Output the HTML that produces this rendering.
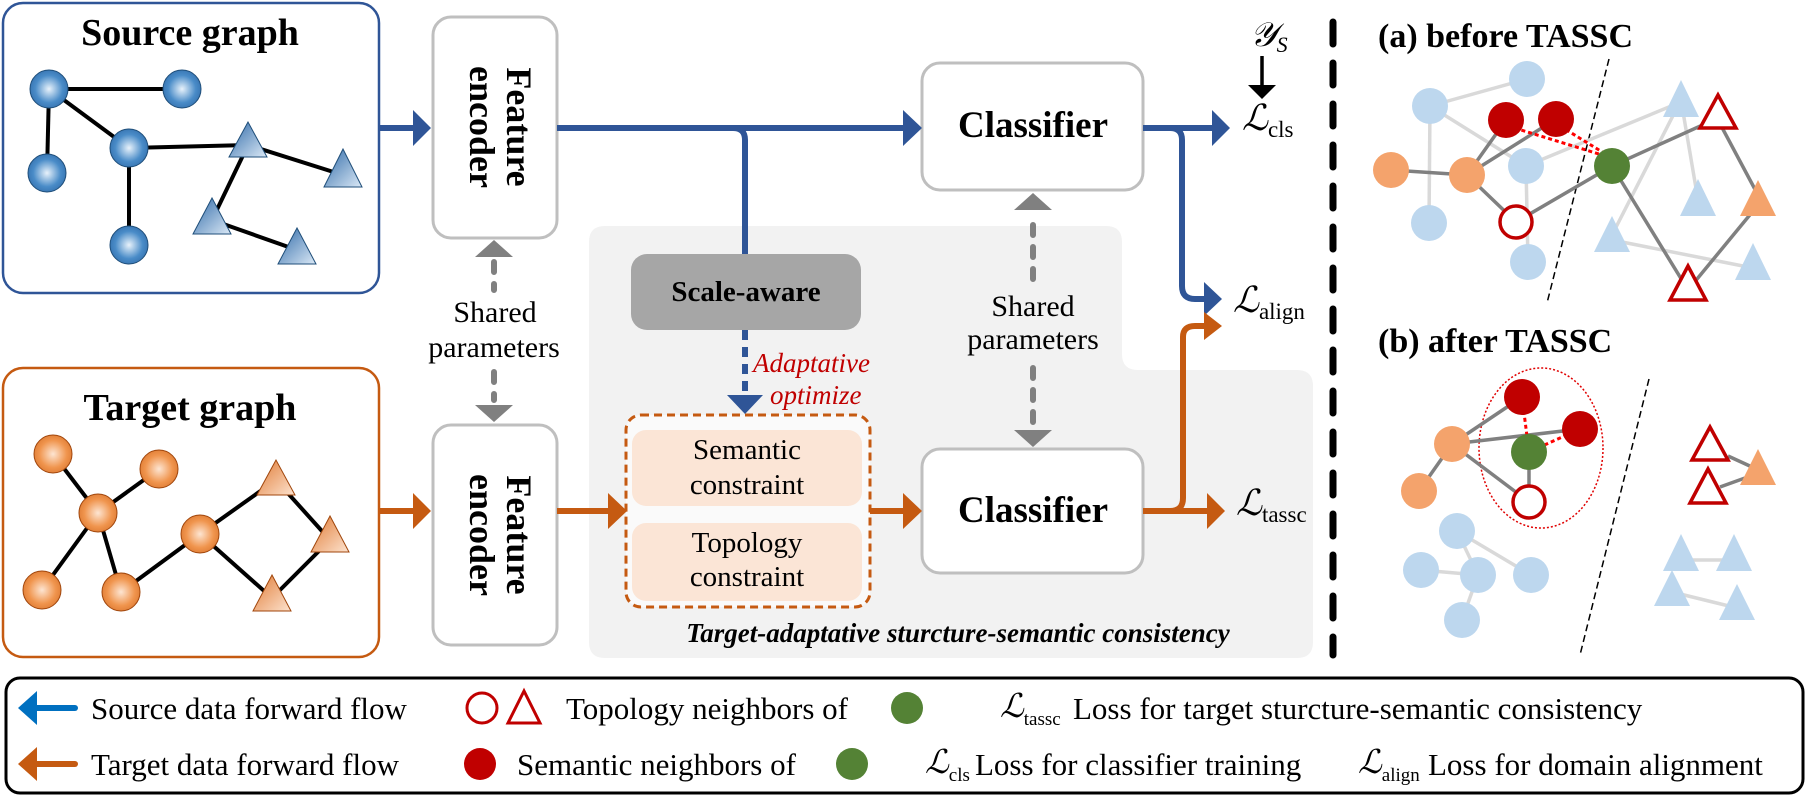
<!DOCTYPE html>
<html><head><meta charset="utf-8"><style>
html,body{margin:0;padding:0;background:#fff}
svg{display:block}
text{font-family:"Liberation Serif","Times New Roman",serif}
.L{font-family:"Liberation Serif","DejaVu Serif",serif;font-style:italic}
</style></head><body>
<svg width="1813" height="796" viewBox="0 0 1813 796" xmlns="http://www.w3.org/2000/svg" font-family="Liberation Serif, serif">
<defs>
<radialGradient id="gb" cx="0.5" cy="0.5" r="0.6"><stop offset="0" stop-color="#e8f2fb"/><stop offset="0.6" stop-color="#4a8cc8"/><stop offset="1" stop-color="#2f6aa8"/></radialGradient>
<radialGradient id="go" cx="0.5" cy="0.5" r="0.6"><stop offset="0" stop-color="#fde5d2"/><stop offset="0.6" stop-color="#f0954e"/><stop offset="1" stop-color="#d9742c"/></radialGradient>
<linearGradient id="tb" x1="0" y1="0" x2="1" y2="1"><stop offset="0" stop-color="#2f6aa8"/><stop offset="1" stop-color="#dbe9f6"/></linearGradient>
<linearGradient id="to" x1="0" y1="0" x2="1" y2="1"><stop offset="0" stop-color="#e07b35"/><stop offset="1" stop-color="#fde3cf"/></linearGradient>
</defs>

<!-- gray region -->
<path d="M605,226 H1106 Q1122,226 1122,242 V354 Q1122,370 1138,370 H1297 Q1313,370 1313,386 V642 Q1313,658 1297,658 H605 Q589,658 589,642 V242 Q589,226 605,226 Z" fill="#f2f2f2"/>

<!-- source box -->
<rect x="3" y="3" width="376" height="290" rx="20" fill="#fff" stroke="#2f5597" stroke-width="2.5"/>
<text x="190" y="45" font-size="38" font-weight="bold" text-anchor="middle">Source graph</text>
<g stroke="#000" stroke-width="4">
<line x1="49" y1="89" x2="182" y2="89"/><line x1="49" y1="89" x2="47" y2="173"/><line x1="49" y1="89" x2="129" y2="148"/>
<line x1="129" y1="148" x2="248" y2="145"/><line x1="129" y1="148" x2="129" y2="245"/><line x1="248" y1="145" x2="343" y2="175"/>
<line x1="248" y1="145" x2="212" y2="220"/><line x1="212" y1="220" x2="297" y2="250"/>
</g>
<g fill="url(#gb)" stroke="#1f4e79" stroke-width="1">
<circle cx="49" cy="89" r="19"/><circle cx="182" cy="89" r="19"/><circle cx="47" cy="173" r="19"/><circle cx="129" cy="148" r="19"/><circle cx="129" cy="245" r="19"/>
</g>
<g fill="url(#tb)" stroke="#1f4e79" stroke-width="1">
<polygon points="248,122 229,157 267,157"/><polygon points="343,149 324,187 362,187"/><polygon points="212,198 193,234 231,234"/><polygon points="297,228 278,264 316,264"/>
</g>

<!-- target box -->
<rect x="3" y="368" width="376" height="289" rx="20" fill="#fff" stroke="#c55a11" stroke-width="2.5"/>
<text x="190" y="420" font-size="38" font-weight="bold" text-anchor="middle">Target graph</text>
<g stroke="#000" stroke-width="4">
<line x1="53" y1="454" x2="98" y2="513"/><line x1="159" y1="469" x2="98" y2="513"/><line x1="98" y1="513" x2="42" y2="590"/><line x1="98" y1="513" x2="121" y2="592"/>
<line x1="200" y1="534" x2="276" y2="480"/><line x1="200" y1="534" x2="121" y2="592"/><line x1="200" y1="534" x2="272" y2="598"/>
<line x1="276" y1="480" x2="330" y2="540"/><line x1="330" y1="540" x2="272" y2="598"/>
</g>
<g fill="url(#go)" stroke="#a0460c" stroke-width="1">
<circle cx="53" cy="454" r="19"/><circle cx="159" cy="469" r="19"/><circle cx="98" cy="513" r="19"/><circle cx="200" cy="534" r="19"/><circle cx="42" cy="590" r="19"/><circle cx="121" cy="592" r="19"/>
</g>
<g fill="url(#to)" stroke="#a0460c" stroke-width="1">
<polygon points="276,460 257,495 295,495"/><polygon points="330,516 311,552 349,552"/><polygon points="272,575 253,611 291,611"/>
</g>

<!-- encoders -->
<rect x="433" y="17" width="124" height="221" rx="18" fill="#fff" stroke="#bfbfbf" stroke-width="3"/>
<rect x="433" y="425" width="124" height="220" rx="18" fill="#fff" stroke="#bfbfbf" stroke-width="3"/>
<g font-size="36" font-weight="bold" text-anchor="middle">
<text transform="translate(495,127) rotate(90)"><tspan x="0" y="-12">Feature</tspan><tspan x="0" y="25">encoder</tspan></text>
<text transform="translate(495,535) rotate(90)"><tspan x="0" y="-12">Feature</tspan><tspan x="0" y="25">encoder</tspan></text>
</g>
<g stroke="#808080" stroke-width="6" stroke-dasharray="10,12" stroke-linecap="round">
<line x1="494" y1="262" x2="494" y2="290"/><line x1="494" y1="372" x2="494" y2="400"/>
<line x1="1033" y1="225" x2="1033" y2="285"/><line x1="1033" y1="368" x2="1033" y2="430"/>
</g>
<g fill="#808080">
<polygon points="494,240 475,257 513,257"/><polygon points="494,422 475,405 513,405"/>
<polygon points="1033,193 1014,210 1052,210"/><polygon points="1033,447 1014,430 1052,430"/>
</g>
<g font-size="30" text-anchor="middle">
<text x="495" y="322">Shared</text><text x="494" y="357">parameters</text>
<text x="1033" y="316">Shared</text><text x="1033" y="349">parameters</text>
</g>

<!-- classifiers -->
<rect x="922" y="63" width="221" height="127" rx="18" fill="#fff" stroke="#bfbfbf" stroke-width="3"/>
<rect x="922" y="449" width="221" height="124" rx="18" fill="#fff" stroke="#bfbfbf" stroke-width="3"/>
<text x="1033" y="137" font-size="37" font-weight="bold" text-anchor="middle">Classifier</text>
<text x="1033" y="522" font-size="37" font-weight="bold" text-anchor="middle">Classifier</text>

<!-- scale aware -->
<rect x="631" y="254" width="230" height="76" rx="16" fill="#a6a6a6"/>
<text x="746" y="301" font-size="29" font-weight="bold" text-anchor="middle">Scale-aware</text>

<!-- constraint box -->
<rect x="626" y="415" width="244" height="192" rx="15" fill="#fafafa" stroke="#c55a11" stroke-width="3" stroke-dasharray="8,5"/>
<rect x="632" y="430" width="230" height="76" rx="14" fill="#fbe5d6"/>
<rect x="632" y="523" width="230" height="78" rx="14" fill="#fbe5d6"/>
<g font-size="29" text-anchor="middle">
<text x="747" y="459">Semantic</text><text x="747" y="494">constraint</text>
<text x="747" y="552">Topology</text><text x="747" y="586">constraint</text>
</g>
<g font-size="27" font-style="italic" fill="#c00000">
<text x="753" y="372">Adaptative</text><text x="770" y="404">optimize</text>
</g>
<text x="958" y="642" font-size="27" font-weight="bold" font-style="italic" text-anchor="middle">Target-adaptative sturcture-semantic consistency</text>

<!-- blue flows -->
<g stroke="#2f5597" stroke-width="6" fill="none">
<line x1="379" y1="128" x2="416" y2="128"/>
<line x1="557" y1="128" x2="905" y2="128"/>
<path d="M733,128 Q745,128 745,140 V254"/>
<line x1="745" y1="330" x2="745" y2="398" stroke-dasharray="10,7"/>
<line x1="1143" y1="128" x2="1215" y2="128"/>
<path d="M1170,128 Q1182,128 1182,140 V286 Q1182,299 1195,299 H1206"/>
</g>
<g fill="#2f5597">
<polygon points="431,128 413,110 413,146"/><polygon points="922,128 903,110 903,146"/>
<polygon points="745,414 727,395 763,395"/><polygon points="1230,128 1212,110 1212,146"/>
<polygon points="1222,299 1204,282 1204,316"/>
</g>
<!-- orange flows -->
<g stroke="#c55a11" stroke-width="6" fill="none">
<line x1="379" y1="511" x2="416" y2="511"/>
<line x1="557" y1="511" x2="611" y2="511"/>
<line x1="870" y1="511" x2="906" y2="511"/>
<line x1="1143" y1="511" x2="1210" y2="511"/>
<path d="M1170,511 Q1183,511 1183,498 V337 Q1183,326 1195,326 H1206"/>
</g>
<g fill="#c55a11">
<polygon points="431,511 413,493 413,529"/><polygon points="627,511 608,493 608,529"/>
<polygon points="922,511 903,493 903,529"/><polygon points="1225,511 1207,493 1207,529"/>
<polygon points="1222,326 1204,312 1204,340"/>
</g>

<!-- losses -->
<text class="L" x="1250" y="46" font-size="34">𝒴<tspan font-size="22" dy="6">S</tspan></text>
<line x1="1262" y1="56" x2="1262" y2="88" stroke="#000" stroke-width="3.5"/>
<polygon points="1262,99 1248,85 1276,85" fill="#000"/>
<g class="L" font-size="36">
<text x="1242" y="130">ℒ<tspan font-style="normal" font-size="23" dy="7">cls</tspan></text>
<text x="1233" y="312">ℒ<tspan font-style="normal" font-size="23" dy="7">align</tspan></text>
<text x="1236" y="515">ℒ<tspan font-style="normal" font-size="23" dy="7">tassc</tspan></text>
</g>

<!-- divider -->
<line x1="1333" y1="22" x2="1333" y2="655" stroke="#000" stroke-width="7" stroke-dasharray="22,19" stroke-linecap="round"/>

<!-- (a) -->
<text x="1378" y="47" font-size="34" font-weight="bold">(a) before TASSC</text>
<line x1="1609" y1="59" x2="1547" y2="303" stroke="#000" stroke-width="1.5" stroke-dasharray="7,4"/>
<g stroke="#d9d9d9" stroke-width="3.5">
<line x1="1430" y1="106" x2="1527" y2="79"/><line x1="1430" y1="106" x2="1429" y2="223"/><line x1="1430" y1="106" x2="1526" y2="166"/>
<line x1="1526" y1="166" x2="1528" y2="262"/><line x1="1526" y1="166" x2="1681" y2="102"/><line x1="1681" y1="100" x2="1698" y2="200"/>
<line x1="1681" y1="100" x2="1612" y2="235"/><line x1="1612" y1="240" x2="1753" y2="268"/>
</g>
<g stroke="#808080" stroke-width="3.5">
<line x1="1391" y1="170" x2="1467" y2="175"/><line x1="1467" y1="175" x2="1506" y2="120"/><line x1="1467" y1="175" x2="1556" y2="119"/>
<line x1="1467" y1="175" x2="1516" y2="222"/><line x1="1516" y1="222" x2="1612" y2="166"/><line x1="1612" y1="166" x2="1718" y2="118"/>
<line x1="1612" y1="166" x2="1688" y2="290"/><line x1="1688" y1="290" x2="1758" y2="205"/><line x1="1718" y1="120" x2="1758" y2="195"/>
</g>
<g stroke="#ff0000" stroke-width="3" stroke-dasharray="4,3">
<line x1="1508" y1="126" x2="1612" y2="158"/><line x1="1560" y1="126" x2="1612" y2="158"/>
</g>
<g fill="#bdd7ee">
<circle cx="1527" cy="79" r="18"/><circle cx="1430" cy="106" r="18"/><circle cx="1526" cy="166" r="18"/><circle cx="1429" cy="223" r="18"/><circle cx="1528" cy="262" r="18"/>
<polygon points="1681,80 1663,117 1699,117"/><polygon points="1698,179 1680,216 1716,216"/><polygon points="1612,216 1594,252 1630,252"/><polygon points="1753,243 1735,280 1771,280"/>
</g>
<g fill="#f4a36c"><circle cx="1391" cy="170" r="18"/><circle cx="1467" cy="175" r="18"/><polygon points="1758,180 1740,216 1776,216"/></g>
<g fill="#c00000"><circle cx="1506" cy="120" r="18"/><circle cx="1556" cy="119" r="18"/></g>
<circle cx="1516" cy="222" r="16" fill="#fff" stroke="#c00000" stroke-width="3.5"/>
<circle cx="1612" cy="166" r="18" fill="#548235"/>
<g fill="#fff" stroke="#c00000" stroke-width="3.5"><polygon points="1718,95 1700,128 1736,128"/><polygon points="1688,266 1670,300 1706,300"/></g>

<!-- (b) -->
<text x="1378" y="352" font-size="34" font-weight="bold">(b) after TASSC</text>
<line x1="1649" y1="379" x2="1580" y2="655" stroke="#000" stroke-width="1.5" stroke-dasharray="7,4"/>
<ellipse cx="1541" cy="448" rx="62" ry="80" fill="none" stroke="#e00000" stroke-width="1.5" stroke-dasharray="2,2"/>
<g stroke="#d9d9d9" stroke-width="3.5">
<line x1="1457" y1="531" x2="1478" y2="575"/><line x1="1457" y1="531" x2="1531" y2="575"/><line x1="1421" y1="570" x2="1478" y2="575"/><line x1="1478" y1="575" x2="1462" y2="620"/>
<line x1="1681" y1="560" x2="1734" y2="560"/><line x1="1672" y1="592" x2="1737" y2="608"/>
</g>
<g stroke="#808080" stroke-width="3.5">
<line x1="1452" y1="444" x2="1522" y2="397"/><line x1="1452" y1="444" x2="1580" y2="429"/><line x1="1452" y1="444" x2="1529" y2="502"/>
<line x1="1452" y1="444" x2="1419" y2="491"/><line x1="1529" y1="452" x2="1529" y2="502"/>
<line x1="1728" y1="456" x2="1752" y2="467"/><line x1="1720" y1="487" x2="1745" y2="478"/>
</g>
<g stroke="#ff0000" stroke-width="3" stroke-dasharray="4,3"><line x1="1522" y1="397" x2="1529" y2="452"/><line x1="1580" y1="429" x2="1529" y2="452"/></g>
<g fill="#bdd7ee">
<circle cx="1457" cy="531" r="18"/><circle cx="1421" cy="570" r="18"/><circle cx="1478" cy="575" r="18"/><circle cx="1531" cy="575" r="18"/><circle cx="1462" cy="620" r="18"/>
<polygon points="1681,534 1663,571 1699,571"/><polygon points="1734,534 1716,571 1752,571"/><polygon points="1672,570 1654,606 1690,606"/><polygon points="1737,584 1719,620 1755,620"/>
</g>
<g fill="#f4a36c"><circle cx="1452" cy="444" r="18"/><circle cx="1419" cy="491" r="18"/><polygon points="1758,449 1740,485 1776,485"/></g>
<g fill="#c00000"><circle cx="1522" cy="397" r="18"/><circle cx="1580" cy="429" r="18"/></g>
<circle cx="1529" cy="452" r="18" fill="#548235"/>
<circle cx="1529" cy="502" r="16" fill="#fff" stroke="#c00000" stroke-width="3.5"/>
<g fill="#fff" stroke="#c00000" stroke-width="3.5"><polygon points="1710,427 1692,460 1728,460"/><polygon points="1708,469 1690,503 1726,503"/></g>

<!-- legend -->
<rect x="6" y="678" width="1797" height="115" rx="14" fill="#fff" stroke="#000" stroke-width="3"/>
<g font-size="31">
<line x1="34" y1="708" x2="75" y2="708" stroke="#0070c0" stroke-width="6" stroke-linecap="round"/><polygon points="18,708 37,691 37,725" fill="#0070c0"/>
<text x="91" y="719">Source data forward flow</text>
<circle cx="482" cy="708" r="15" fill="#fff" stroke="#c00000" stroke-width="3"/>
<polygon points="524,691 508,723 540,723" fill="#fff" stroke="#c00000" stroke-width="3"/>
<text x="566" y="719">Topology neighbors of</text>
<circle cx="907" cy="708" r="16" fill="#548235"/>
<text class="L" x="1000" y="717" font-size="33">ℒ<tspan font-style="normal" font-size="19" dy="8">tassc</tspan></text>
<text x="1073" y="719">Loss for target sturcture-semantic consistency</text>

<line x1="34" y1="764" x2="75" y2="764" stroke="#c55a11" stroke-width="6" stroke-linecap="round"/><polygon points="18,764 37,747 37,781" fill="#c55a11"/>
<text x="91" y="775">Target data forward flow</text>
<circle cx="480" cy="764" r="16" fill="#c00000"/>
<text x="517" y="775">Semantic neighbors of</text>
<circle cx="852" cy="764" r="16" fill="#548235"/>
<text class="L" x="925" y="773" font-size="33">ℒ<tspan font-style="normal" font-size="19" dy="8">cls</tspan></text>
<text x="975" y="775">Loss for classifier training</text>
<text class="L" x="1358" y="773" font-size="33">ℒ<tspan font-style="normal" font-size="19" dy="8">align</tspan></text>
<text x="1428" y="775">Loss for domain alignment</text>
</g>
</svg>
</body></html>
